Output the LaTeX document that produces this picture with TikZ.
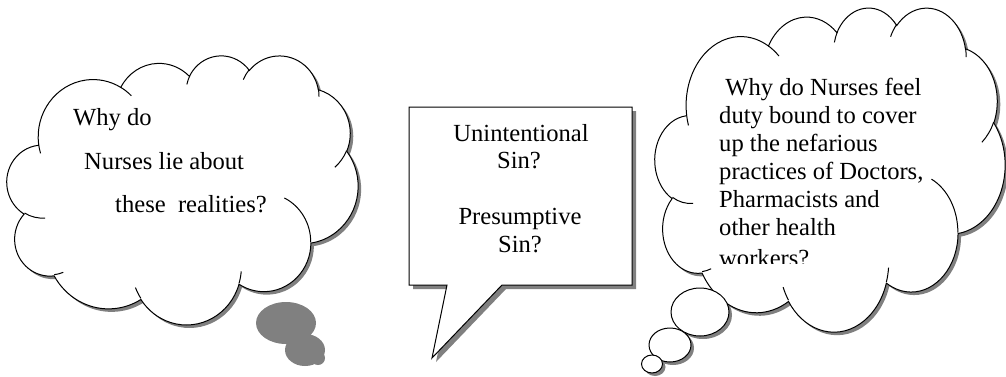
\documentclass[tikz,border=0pt]{standalone}
\usepackage{fontspec}
\setmainfont{Liberation Serif}
\definecolor{shadowgray}{HTML}{808080}
% convert a geometric (DrawingML) angle to the parametric angle of an ellipse
\newcommand\paramang[4]{%
  \pgfmathsetmacro\tmpd{atan2((#2)*sin(#4),(#3)*cos(#4))-(#4)}%
  \pgfmathsetmacro\tmpd{\tmpd-360*round(\tmpd/360)}%
  \pgfmathsetmacro#1{(#4)+\tmpd}%
}
\newcommand\defarc[6]{\paramang#1{#3}{#4}{#5}\paramang#2{#3}{#4}{#5+#6}}
% outer arcs
\defarc\cAs\cAe{67.53}{91.90}{-190.4875}{123.7805}
\defarc\cBs\cBe{53.33}{72.67}{-144.1024}{89.9452}
\defarc\cCs\cCe{43.65}{59.45}{-145.8079}{99.7230}
\defarc\cDs\cDe{48.57}{65.95}{-130.9861}{117.2417}
\defarc\cEs\cEe{53.33}{72.73}{-78.7089}{109.0269}
\defarc\cFs\cFe{67.75}{92.20}{-46.2673}{130.2690}
\defarc\cGs\cGe{57.85}{78.67}{0.6250}{114.0333}
\defarc\cHs\cHe{67.52}{92.15}{22.4516}{115.1726}
\defarc\cIs\cIe{77.20}{105.43}{66.2426}{75.7110}
\defarc\cJs\cJe{43.60}{59.18}{-274.9421}{146.7356}
\defarc\cKs\cKe{43.45}{59.45}{-246.8285}{152.5189}
% inner arcs
\defarc\iAs\iAe{43.45}{59.45}{86.7420}{26.4295}
\defarc\iBs\iBe{43.60}{59.18}{73.6105}{11.4475}
\defarc\iCs\iCe{67.52}{92.15}{137.6242}{14.0811}
\defarc\iDs\iDe{67.52}{92.15}{6.4533}{15.9984}
\defarc\iEs\iEe{57.85}{78.67}{-70.2924}{70.9174}
\defarc\iFs\iFe{53.33}{72.73}{30.3180}{27.7515}
\defarc\iGs\iGe{48.57}{65.95}{-13.7443}{14.8589}
\defarc\iHs\iHe{48.57}{65.95}{-149.1815}{18.1954}
\defarc\iIs\iIe{43.65}{59.45}{-163.4943}{17.6864}
\defarc\iJs\iJe{67.53}{91.90}{-66.7070}{12.3194}
\defarc\iKs\iKe{67.53}{91.90}{157.6544}{11.8582}
\newcommand\cloudbody[1]{\path[#1] (39.00,143.70)
  arc[start angle=\cAs, end angle=\cAe, x radius=67.53, y radius=91.90]
  arc[start angle=\cBs, end angle=\cBe, x radius=53.33, y radius=72.67]
  arc[start angle=\cCs, end angle=\cCe, x radius=43.65, y radius=59.45]
  arc[start angle=\cDs, end angle=\cDe, x radius=48.57, y radius=65.95]
  arc[start angle=\cEs, end angle=\cEe, x radius=53.33, y radius=72.73]
  arc[start angle=\cFs, end angle=\cFe, x radius=67.75, y radius=92.20]
  arc[start angle=\cGs, end angle=\cGe, x radius=57.85, y radius=78.67]
  arc[start angle=\cHs, end angle=\cHe, x radius=67.52, y radius=92.15]
  arc[start angle=\cIs, end angle=\cIe, x radius=77.20, y radius=105.43]
  arc[start angle=\cJs, end angle=\cJe, x radius=43.60, y radius=59.18]
  arc[start angle=\cKs, end angle=\cKe, x radius=43.45, y radius=59.45]
  -- cycle;}
\newcommand\cloudinner[1]{\path[#1]
  (46.93,261.77) arc[start angle=\iAs, end angle=\iAe, x radius=43.45, y radius=59.45]
  (69.28,348.99) arc[start angle=\iBs, end angle=\iBe, x radius=43.60, y radius=59.18]
  (164.78,390.90) arc[start angle=\iCs, end angle=\iCe, x radius=67.52, y radius=92.15]
  (288.27,347.51) arc[start angle=\iDs, end angle=\iDe, x radius=67.52, y radius=92.15]
  (341.29,229.54) arc[start angle=\iEs, end angle=\iEe, x radius=57.85, y radius=78.67]
  (417.98,153.54) arc[start angle=\iFs, end angle=\iFe, x radius=53.33, y radius=72.73]
  (383.24,54.26) arc[start angle=\iGs, end angle=\iGe, x radius=48.57, y radius=65.95]
  (290.78,39.52) arc[start angle=\iHs, end angle=\iHe, x radius=48.57, y radius=65.95]
  (221.41,47.20) arc[start angle=\iIs, end angle=\iIe, x radius=43.65, y radius=59.45]
  (140.00,51.92) arc[start angle=\iJs, end angle=\iJe, x radius=67.53, y radius=91.90]
  (41.27,157.89) arc[start angle=\iKs, end angle=\iKe, x radius=67.53, y radius=91.90];}
\newcommand\cloudshadow[4]{%
  \pgfmathsetmacro\cw{(#3)/432}\pgfmathsetmacro\ch{(#4)/432}%
  \begin{scope}[shift={(#1+3,#2+3)}, x=\cw pt, y=-\ch pt]
    \cloudbody{fill=shadowgray}
  \end{scope}}
\newcommand\cloudmain[4]{%
  \pgfmathsetmacro\cw{(#3)/432}\pgfmathsetmacro\ch{(#4)/432}%
  \begin{scope}[shift={(#1,#2)}, x=\cw pt, y=-\ch pt]
    \cloudbody{fill=white, draw=black, line width=1pt}
    \cloudinner{draw=black, line width=1pt}
  \end{scope}}
\tikzset{
  txt/.style={inner sep=0pt, font=\fontsize{24.6}{28}\selectfont},
  outline/.style={draw=black, line width=1pt, fill=white},
}
\begin{document}
\begin{tikzpicture}[x=1pt, y=-1pt, line join=miter]
\useasboundingbox (0,0) rectangle (1006,376);
% ---------- left cloud ----------
\cloudshadow{7}{55}{351}{269}
\cloudmain{7}{55}{351}{269}
\fill[shadowgray] (286,323) ellipse [x radius=30, y radius=21];
\fill[shadowgray] (305,350) ellipse [x radius=20, y radius=16];
\fill[shadowgray] (318,358) circle [radius=7];
\node[txt, anchor=base west] (l1) at (73,125) {Why do};
\node[txt, anchor=base west] (l2) at (84,169) {Nurses lie about};
\node[txt, anchor=base west] (l3) at (115,212) {these\ \ realities?};
% ---------- middle speech box ----------
\fill[shadowgray] (413,111) -- (636,111) -- (636,289) -- (506,289) -- (436,362) -- (451,289) -- (413,289) -- cycle;
\path[outline] (409,107) -- (632,107) -- (632,285) -- (502,285) -- (432,358) -- (447,285) -- (409,285) -- cycle;
\node[txt, anchor=base] (m1) at (521,141) {Unintentional};
\node[txt, anchor=base] (m2) at (519,168) {Sin?};
\node[txt, anchor=base] (m3) at (520,224) {Presumptive};
\node[txt, anchor=base] (m4) at (520,252) {Sin?};
% ---------- right cloud ----------
\cloudshadow{655}{7}{350}{324}
\fill[shadowgray] (703,315) ellipse [x radius=29, y radius=24];
\fill[shadowgray] (673,348) ellipse [x radius=21, y radius=17];
\fill[shadowgray] (655,367) ellipse [x radius=10.5, y radius=9];
\cloudmain{655}{7}{350}{324}
\path[outline] (700,312) ellipse [x radius=29, y radius=24];
\path[outline] (670,345) ellipse [x radius=21, y radius=17];
\path[outline] (652,364) ellipse [x radius=10.5, y radius=9];
\node[txt, anchor=base west] (r1) at (719,95) {\ Why do Nurses feel};
\node[txt, anchor=base west] (r2) at (719,123) {duty bound to cover};
\node[txt, anchor=base west] (r3) at (719,151) {up the nefarious};
\node[txt, anchor=base west] (r4) at (719,179) {practices of Doctors,};
\node[txt, anchor=base west] (r5) at (719,207) {Pharmacists and};
\node[txt, anchor=base west] (r6) at (719,235) {other health};
\begin{scope}
  \clip (700,230) rectangle (960,263);
  \node[txt, anchor=base west] (r7) at (719,266) {workers?};
\end{scope}
\end{tikzpicture}
\end{document}
